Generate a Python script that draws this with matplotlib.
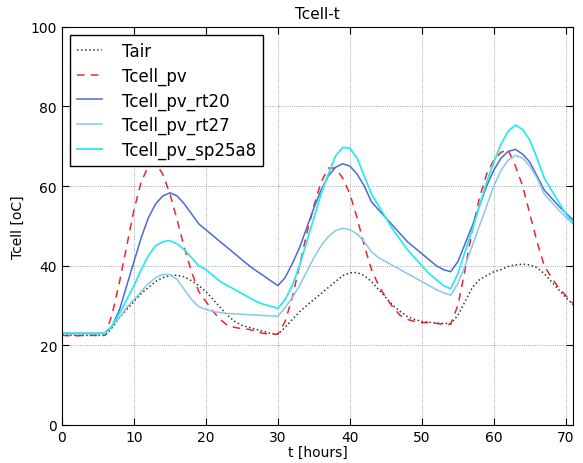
import matplotlib
matplotlib.use("Agg")
import matplotlib.pyplot as plt
import numpy as np

# hourly values, t = 0..71
t = np.arange(72)

tair = [22.6, 22.6, 22.5, 22.5, 22.5, 22.5, 22.5, 24.5, 27.0, 29.0,
        31.0, 33.0, 34.5, 36.0, 37.0, 37.5, 37.6, 37.2, 36.2, 35.0,
        33.5, 31.5, 29.5, 27.5, 26.0, 25.0, 24.5, 24.0, 23.5, 23.0,
        22.8, 24.5, 26.5, 28.4, 30.0, 31.5, 33.0, 34.5, 36.0, 37.5,
        38.2, 38.3, 37.5, 36.0, 34.0, 32.0, 30.0, 28.5, 27.2, 26.5,
        26.0, 25.8, 25.6, 25.5, 25.5, 27.5, 31.0, 34.5, 36.5, 37.5,
        38.5, 39.0, 39.8, 40.2, 40.4, 40.2, 39.5, 38.0, 36.0, 34.0,
        32.0, 30.2]

tcell_pv = [22.5, 22.4, 22.4, 22.5, 22.5, 22.5, 22.5, 28.0, 36.0, 45.0,
            54.0, 61.0, 65.0, 65.8, 63.0, 58.0, 51.5, 44.5, 38.5, 33.5,
            31.0, 28.5, 26.5, 25.0, 24.5, 24.2, 24.0, 23.5, 23.0, 22.8,
            22.8, 26.0, 32.0, 40.0, 48.0, 55.0, 61.0, 64.5, 64.5, 62.0,
            58.0, 52.0, 45.0, 39.0, 35.0, 32.0, 29.5, 27.5, 26.5, 26.0,
            25.7, 25.7, 25.5, 25.3, 25.3, 30.0, 39.0, 49.0, 57.0, 63.0,
            66.5, 68.5, 69.0, 65.0, 60.0, 53.0, 46.0, 40.0, 37.0, 34.5,
            32.5, 30.5]

tcell_rt20 = [23.1, 23.0, 23.0, 23.0, 23.0, 23.0, 23.0, 25.0, 29.0, 35.0,
              41.0, 47.0, 52.0, 55.5, 57.5, 58.3, 57.5, 55.5, 53.0, 50.5,
              49.0, 47.5, 46.0, 44.5, 43.0, 41.5, 40.0, 38.7, 37.5, 36.2,
              35.0, 37.0, 40.5, 44.5, 49.5, 54.5, 59.0, 62.5, 64.7, 65.6,
              65.0, 63.0, 60.0, 56.0, 54.0, 52.0, 50.0, 48.0, 46.0, 44.5,
              43.0, 41.5, 40.0, 39.0, 38.5, 41.0, 45.5, 50.0, 55.0, 60.0,
              64.0, 67.0, 68.7, 69.2, 68.0, 66.0, 62.5, 59.0, 57.0, 55.0,
              53.2, 51.5]

tcell_rt27 = [23.1, 23.0, 23.0, 23.0, 23.0, 23.0, 23.0, 25.0, 27.0, 29.5,
              31.5, 33.5, 35.5, 37.0, 37.8, 37.8, 36.5, 34.0, 31.5, 29.7,
              29.0, 28.5, 28.2, 28.0, 27.9, 27.8, 27.7, 27.6, 27.5, 27.4,
              27.3, 29.5, 32.0, 35.0, 38.5, 42.0, 45.0, 47.3, 48.8, 49.4,
              49.0, 48.0, 46.0, 43.5, 42.0, 41.0, 40.0, 39.0, 38.0, 37.0,
              36.0, 35.0, 34.0, 33.2, 32.6, 35.5, 40.0, 45.0, 50.0, 55.0,
              60.0, 64.0, 66.5, 67.7, 67.0, 65.0, 62.0, 58.0, 56.0, 54.0,
              52.2, 50.7]

tcell_sp25a8 = [23.1, 23.0, 23.0, 23.0, 23.0, 23.0, 23.0, 25.0, 28.0, 31.5,
                35.0, 39.0, 42.5, 45.0, 46.0, 46.3, 45.5, 44.0, 42.0, 40.0,
                39.0, 37.5, 36.0, 35.0, 34.0, 33.0, 32.0, 31.0, 30.3, 29.8,
                29.3, 31.5, 35.0, 40.0, 46.0, 52.0, 58.0, 63.0, 67.5, 69.7,
                69.5, 67.0, 62.5, 58.0, 55.0, 52.0, 49.0, 46.5, 44.0, 42.0,
                40.0, 38.0, 36.5, 35.0, 34.2, 38.0, 43.5, 49.0, 55.0, 61.0,
                66.0, 70.5, 73.8, 75.3, 74.2, 71.5, 67.0, 62.0, 59.0, 56.0,
                53.0, 50.5]

fig = plt.figure(figsize=(5.83, 4.64), dpi=100)
ax = fig.add_axes([0.1063, 0.0819, 0.8766, 0.8584])

ax.plot(t, tair, ':', color='#333333', lw=1.1, label='Tair')
ax.plot(t, tcell_pv, '--', color='#e8282a', lw=1.1, dashes=(5, 4), label='Tcell_pv')
ax.plot(t, tcell_rt20, '-', color='#4a6ad6', lw=1.1, label='Tcell_pv_rt20')
ax.plot(t, tcell_rt27, '-', color='#88c8e8', lw=1.1, label='Tcell_pv_rt27')
ax.plot(t, tcell_sp25a8, '-', color='#2ee8ec', lw=1.3, label='Tcell_pv_sp25a8')

ax.set_xlim(0, 71)
ax.set_ylim(0, 100)
ax.set_xticks(range(0, 71, 10))
ax.set_yticks(range(0, 101, 20))
ax.tick_params(direction='in', top=True, right=True, length=5, labelsize=10)
ax.grid(True, linestyle=':', color='#8a8a8a', lw=0.6)
ax.set_title('Tcell-t', fontsize=11)
ax.set_xlabel('t [hours]', fontsize=10, labelpad=1)
ax.set_ylabel('Tcell [oC]', fontsize=10)

leg = ax.legend(loc='upper left', fontsize=12, fancybox=False, framealpha=1,
                handlelength=1.5, handletextpad=1.2, labelspacing=0.4,
                borderaxespad=0.5)
leg.get_frame().set_edgecolor('black')

fig.savefig('out.png', dpi=100)
